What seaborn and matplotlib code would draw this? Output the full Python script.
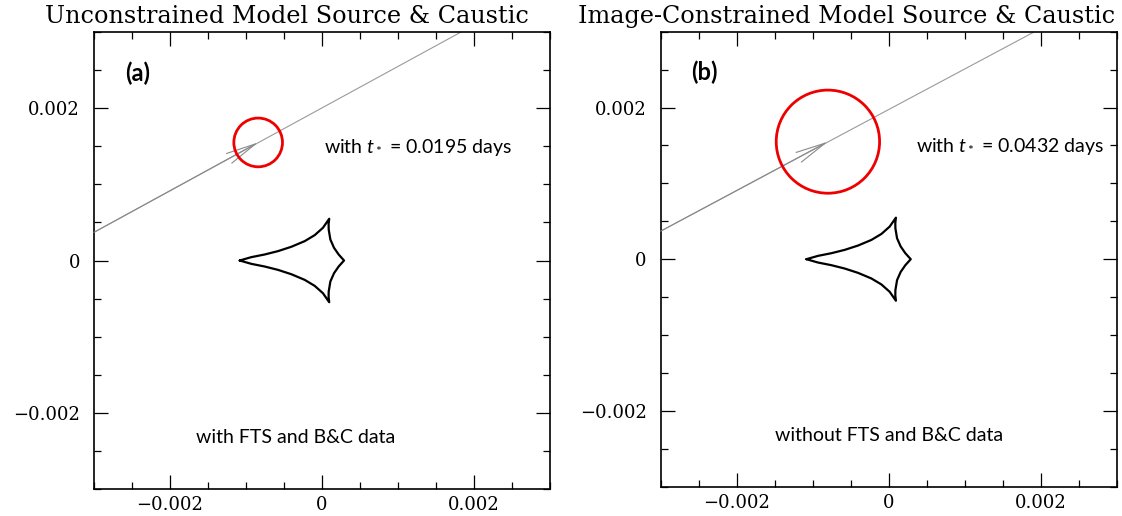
import numpy as np
import pandas as pd
import matplotlib
matplotlib.use("Agg")
import matplotlib.pyplot as plt
import seaborn as sns
from matplotlib.ticker import FixedLocator, FixedFormatter, MultipleLocator

# ---------------- data (units: Einstein radii) ----------------
panel_titles = ["Unconstrained Model Source & Caustic",
                "Image-Constrained Model Source & Caustic"]
panel_tags = ["(a)", "(b)"]
tstar_labels = ["with $t_*$ = 0.0195 days", "with $t_*$ = 0.0432 days"]
data_labels = ["with FTS and B&C data", "without FTS and B&C data"]

# source trajectory endpoints
traj_a_x = [-0.0030, 0.00183]
traj_a_y = [0.00037, 0.0030]
traj_b_x = [-0.0030, 0.00192]
traj_b_y = [0.00037, 0.0030]

# source position and radius
source_a = [-0.00084, 0.00155]
source_b = [-0.00080, 0.00155]
radius_a = 0.00032
radius_b = 0.00068

# caustic: upper-left edge (left cusp -> upper cusp)
caustic_upper_x = [-0.001083, -0.000930, -0.000754, -0.000579, -0.000404,
                   -0.000228, -0.000096, 0.000013, 0.000095]
caustic_upper_y = [0.0, 0.000044, 0.000079, 0.000123, 0.000180,
                   0.000254, 0.000333, 0.000430, 0.000548]
# caustic: right edge (upper cusp -> right cusp)
caustic_right_x = [0.000095, 0.000087, 0.000088, 0.000110, 0.000158,
                   0.000219, 0.000290]
caustic_right_y = [0.000548, 0.000480, 0.000408, 0.000276, 0.000167,
                   0.000079, 0.0]

# axes/ticks
ax_lim = [-0.003, 0.003]
major_ticks = [-0.002, 0.0, 0.002]
major_labels = ["\u22120.002", "0", "0.002"]

# -------------------------------------------------------------
sns.set_theme(style="ticks")
plt.rcParams["font.family"] = ["DejaVu Serif", "DejaVu Sans"]
plt.rcParams["mathtext.fontset"] = "custom"
plt.rcParams["mathtext.rm"] = "Lato"
plt.rcParams["mathtext.it"] = "Lato:italic"
plt.rcParams["text.color"] = "black"
plt.rcParams["xtick.color"] = "black"
plt.rcParams["ytick.color"] = "black"

# closed caustic path (upper half + mirrored lower half)
cx = (caustic_upper_x + caustic_right_x[1:] +
      caustic_right_x[::-1][1:] + caustic_upper_x[::-1][1:])
cy = (caustic_upper_y + caustic_right_y[1:] +
      [-v for v in caustic_right_y[::-1][1:]] +
      [-v for v in caustic_upper_y[::-1][1:]])
caustic_df = pd.DataFrame({"x": cx, "y": cy})

fig = plt.figure(figsize=(11.22, 5.16), dpi=100)
W, H = 1122.0, 516.0
ax_a = fig.add_axes([94 / W, (H - 489) / H, 456 / W, 457 / H])
ax_b = fig.add_axes([660.7 / W, (H - 486.7) / H, 456 / W, 455 / H])

panels = [
    (ax_a, traj_a_x, traj_a_y, source_a, radius_a, 0),
    (ax_b, traj_b_x, traj_b_y, source_b, radius_b, 1),
]

text_font = "Lato"

for ax, tx, ty, src, rad, i in panels:
    traj_df = pd.DataFrame({"x": tx, "y": ty})
    sns.lineplot(data=traj_df, x="x", y="y", ax=ax, color="#9a9a9a",
                 lw=0.8, sort=False, estimator=None)
    sns.lineplot(data=caustic_df, x="x", y="y", ax=ax, color="black",
                 lw=1.6, sort=False, estimator=None,
                 solid_joinstyle="round")
    ax.add_patch(plt.Circle((src[0], src[1]), rad, fill=False,
                            color="#ee0000", lw=2.0, zorder=5))
    ax.annotate("", xy=(src[0], src[1]), xytext=(tx[0], ty[0]),
                arrowprops=dict(arrowstyle="->,head_length=1.8,head_width=0.33",
                                color="#8a8a8a", lw=0.8,
                                shrinkA=0, shrinkB=0))

    ax.set_xlim(ax_lim)
    ax.set_ylim(ax_lim)
    ax.set_xlabel("")
    ax.set_ylabel("")
    ax.xaxis.set_major_locator(FixedLocator(major_ticks))
    ax.yaxis.set_major_locator(FixedLocator(major_ticks))
    ax.xaxis.set_major_formatter(FixedFormatter(major_labels))
    ax.yaxis.set_major_formatter(FixedFormatter(major_labels))
    ax.xaxis.set_minor_locator(MultipleLocator(0.0005))
    ax.yaxis.set_minor_locator(MultipleLocator(0.0005))
    ax.tick_params(which="both", direction="in", top=True, right=True,
                   color="black", width=0.9)
    ax.tick_params(which="major", length=10)
    ax.tick_params(which="minor", length=5)
    ax.tick_params(axis="y", which="major", pad=10, labelsize=13)
    ax.tick_params(axis="x", which="major", pad=5, labelsize=13)
    for sp in ax.spines.values():
        sp.set_visible(True)
        sp.set_linewidth(1.2)
        sp.set_color("black")
    ax.set_facecolor("white")

    ax.text(-0.00242, 0.00246, panel_tags[i], fontsize=17,
            fontweight="bold", family=text_font, ha="center", va="center",
            color="black")
    ax.text(0.000023 if i == 0 else 0.000355, 0.00149, tstar_labels[i],
            fontsize=14, family=text_font, ha="left", va="center",
            color="black")
    ax.text(-0.000344 if i == 0 else 0.0, -0.00232, data_labels[i],
            fontsize=14, family=text_font, ha="center", va="center",
            color="black")

# titles, fitted to the reference width
t1 = fig.text(286.8 / W, 1 - 22.7 / H, panel_titles[0], ha="center",
              va="baseline", fontsize=15, color="black")
t2 = fig.text(846.3 / W, 1 - 22.7 / H, panel_titles[1], ha="center",
              va="baseline", fontsize=15, color="black")
fig.canvas.draw()
r = fig.canvas.get_renderer()
w1 = t1.get_window_extent(r).width
fs = 15 * 483.0 / w1
t1.set_fontsize(fs)
t2.set_fontsize(fs)

fig.savefig("out.png", dpi=100, facecolor="white")
